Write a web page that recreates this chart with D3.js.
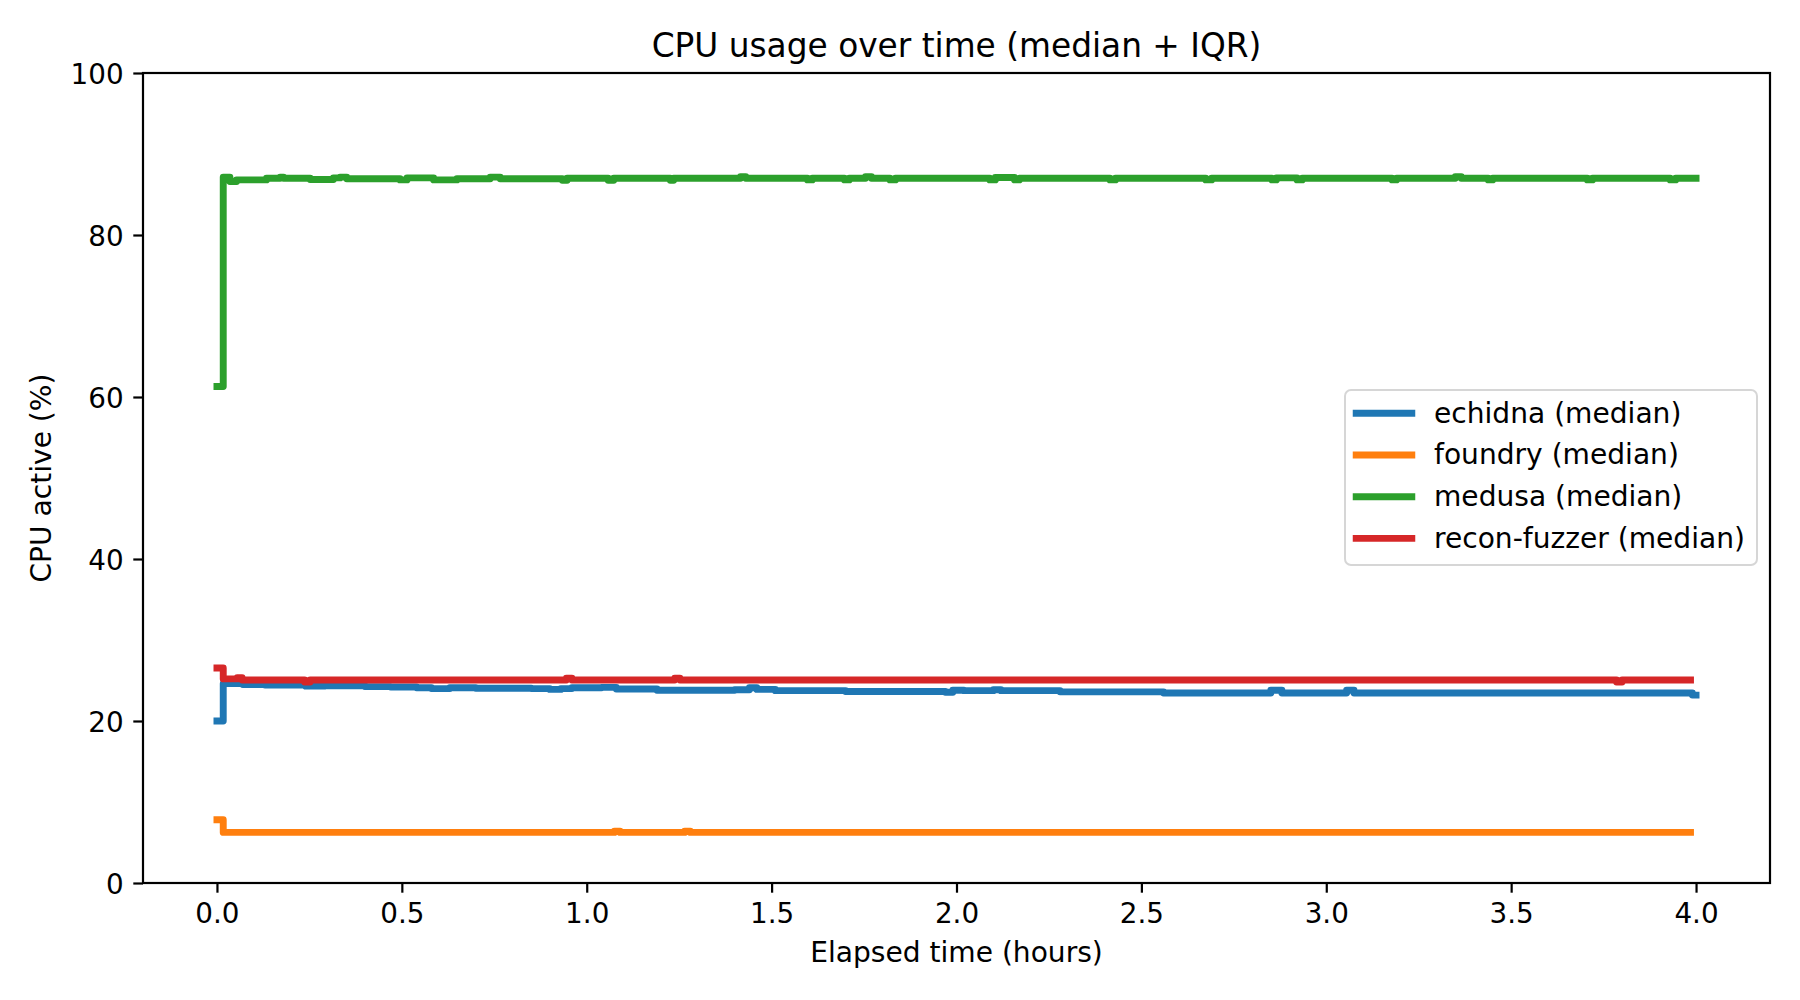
<!DOCTYPE html>
<html>
<head>
<meta charset="utf-8">
<script src="https://cdn.jsdelivr.net/npm/d3@7"></script>
<style>
  html, body { margin: 0; padding: 0; background: #fff; }
  svg { display: block; font-family: "DejaVu Sans", sans-serif; }
</style>
</head>
<body>
<svg id="chart" width="1800" height="1000"></svg>
<script>
// ---- data: step-change points [hours, CPU %] ----
const seriesNames = ["echidna (median)", "foundry (median)", "medusa (median)", "recon-fuzzer (median)"];
const seriesColors = ["#1f77b4", "#ff7f0e", "#2ca02c", "#d62728"];

const echidna = [
  [0, 20.0], [0.017, 24.62], [0.07, 24.5], [0.13, 24.45], [0.24, 24.3], [0.29, 24.35],
  [0.40, 24.25], [0.47, 24.2], [0.54, 24.1], [0.58, 24.0], [0.63, 24.1], [0.70, 24.05],
  [0.77, 24.05], [0.85, 24.0], [0.90, 23.9], [0.93, 24.0], [0.96, 24.1], [1.04, 24.15],
  [1.08, 23.95], [1.19, 23.8], [1.40, 23.85], [1.44, 24.1], [1.46, 23.9], [1.51, 23.75],
  [1.70, 23.65], [1.97, 23.55], [1.99, 23.8], [2.02, 23.75], [2.10, 23.85], [2.12, 23.75],
  [2.28, 23.6], [2.56, 23.45], [2.85, 23.8], [2.88, 23.45], [3.055, 23.8], [3.075, 23.45],
  [3.99, 23.2], [4.0, 23.2]
];

const foundry = [
  [0, 7.8], [0.017, 6.25], [1.075, 6.4], [1.09, 6.25], [1.265, 6.4], [1.28, 6.25], [3.985, 6.25]
];

const medusa = [
  [0, 61.3], [0.017, 87.15], [0.035, 86.6], [0.053, 86.8], [0.134, 87.0], [0.171, 87.15],
  [0.18, 87.0], [0.252, 86.85], [0.315, 87.05], [0.333, 87.15], [0.351, 86.95], [0.495, 86.8],
  [0.514, 87.05], [0.586, 86.8], [0.649, 86.95], [0.739, 87.15], [0.766, 86.95], [0.934, 86.75],
  [0.947, 87.0], [1.058, 86.75], [1.073, 87.0], [1.226, 86.75], [1.235, 87.0], [1.416, 87.2],
  [1.43, 87.0], [1.597, 86.8], [1.61, 87.0], [1.697, 86.8], [1.71, 87.0], [1.754, 87.2],
  [1.77, 87.0], [1.82, 86.8], [1.835, 87.0], [2.09, 86.8], [2.105, 87.1], [2.157, 86.8],
  [2.17, 87.0], [2.415, 86.8], [2.43, 87.0], [2.674, 86.8], [2.69, 87.0], [2.853, 86.8],
  [2.865, 87.05], [2.921, 86.8], [2.935, 87.0], [3.178, 86.8], [3.19, 87.0], [3.349, 87.2],
  [3.365, 87.0], [3.438, 86.8], [3.45, 87.0], [3.706, 86.8], [3.72, 87.0], [3.93, 86.8],
  [3.945, 87.0], [4.0, 87.0]
];

const recon = [
  [0, 26.55], [0.017, 25.2], [0.055, 25.35], [0.068, 25.06], [0.237, 24.82], [0.252, 25.06],
  [0.945, 25.28], [0.96, 25.06], [1.238, 25.28], [1.252, 25.06], [3.785, 24.82], [3.80, 25.06],
  [3.985, 25.06]
];

const xTicks = [0.0, 0.5, 1.0, 1.5, 2.0, 2.5, 3.0, 3.5, 4.0];
const yTicks = [0, 20, 40, 60, 80, 100];

const titleText = "CPU usage over time (median + IQR)";
const xLabelText = "Elapsed time (hours)";
const yLabelText = "CPU active (%)";

// ---- layout ----
const M = { left: 143, right: 1770, top: 73, bottom: 883 };
const FS = 28.1;
const svg = d3.select("#chart");

const x = d3.scaleLinear().domain([-0.2, 4.2]).range([M.left, M.right]);
const y = d3.scaleLinear().domain([0, 100]).range([M.bottom, M.top]);

svg.append("defs").append("clipPath").attr("id", "clip")
  .append("rect").attr("x", M.left).attr("y", M.top)
  .attr("width", M.right - M.left).attr("height", M.bottom - M.top);

// lines
const line = d3.line().x(d => x(d[0])).y(d => y(d[1])).curve(d3.curveStepAfter);
const allSeries = [echidna, foundry, medusa, recon];
const gLines = svg.append("g").attr("clip-path", "url(#clip)");
allSeries.forEach((s, i) => {
  gLines.append("path").datum(s)
    .attr("d", line)
    .attr("fill", "none")
    .attr("stroke", seriesColors[i])
    .attr("stroke-width", 6.9)
    .attr("stroke-linejoin", "round")
    .attr("stroke-linecap", "square");
});

// axes
const tickLen = 9.7, tickPad = 9.7, axW = 2.2;
const xAxis = d3.axisBottom(x).tickValues(xTicks).tickFormat(d3.format(".1f"))
  .tickSizeInner(tickLen).tickSizeOuter(0).tickPadding(tickPad);
const yAxis = d3.axisLeft(y).tickValues(yTicks).tickFormat(d3.format("d"))
  .tickSizeInner(tickLen).tickSizeOuter(0).tickPadding(tickPad);

const gx = svg.append("g").attr("transform", `translate(0,${M.bottom})`).call(xAxis);
const gy = svg.append("g").attr("transform", `translate(${M.left},0)`).call(yAxis);
[gx, gy].forEach(g => {
  g.select(".domain").remove();
  g.selectAll(".tick line").attr("stroke", "#000").attr("stroke-width", axW);
  g.selectAll(".tick text").attr("fill", "#000").style("font-size", "27.8px")
    .style("font-family", "'DejaVu Sans', sans-serif");
});
gx.selectAll(".tick text").attr("dy", null).attr("y", tickLen + tickPad + 21);
gy.selectAll(".tick text").attr("dy", null).attr("y", 10);

// spines
svg.append("rect").attr("x", M.left).attr("y", M.top)
  .attr("width", M.right - M.left).attr("height", M.bottom - M.top)
  .attr("fill", "none").attr("stroke", "#000").attr("stroke-width", axW)
  .attr("stroke-linejoin", "miter");

// title & labels
svg.append("text").attr("x", (M.left + M.right) / 2).attr("y", 57)
  .attr("text-anchor", "middle").style("font-size", "32.8px").text(titleText);
svg.append("text").attr("x", (M.left + M.right) / 2).attr("y", 962)
  .attr("text-anchor", "middle").style("font-size", FS + "px").text(xLabelText);
svg.append("text").attr("transform", `translate(51,${(M.top + M.bottom) / 2}) rotate(-90)`)
  .attr("text-anchor", "middle").style("font-size", FS + "px").text(yLabelText);

// legend
const lg = svg.append("g");
lg.append("rect").attr("x", 1345).attr("y", 390).attr("width", 412).attr("height", 175)
  .attr("rx", 6).attr("ry", 6)
  .attr("fill", "#fff").attr("fill-opacity", 0.8)
  .attr("stroke", "#cccccc").attr("stroke-opacity", 0.8).attr("stroke-width", 2);
seriesNames.forEach((name, i) => {
  const cy = 413.3 + i * 41.7;
  lg.append("line").attr("x1", 1356.2).attr("x2", 1411.8).attr("y1", cy).attr("y2", cy)
    .attr("stroke", seriesColors[i]).attr("stroke-width", 6.9).attr("stroke-linecap", "square");
  lg.append("text").attr("x", 1434).attr("y", cy + 9.4)
    .style("font-size", FS + "px").text(name);
});
</script>
</body>
</html>
